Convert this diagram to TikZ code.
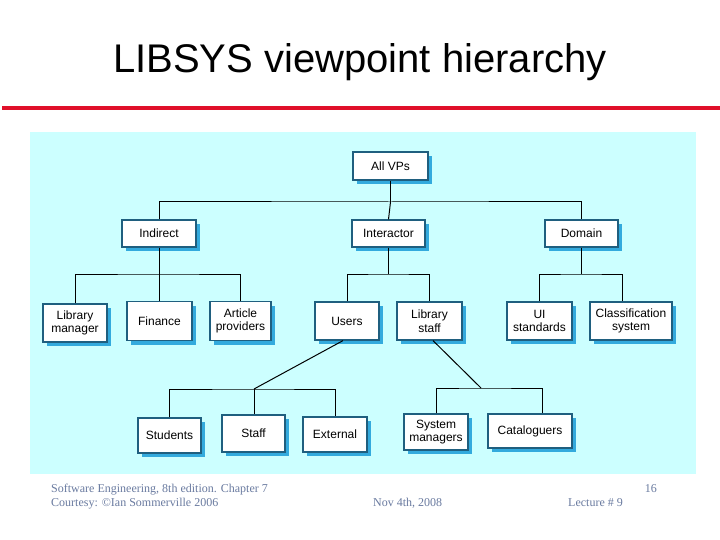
\documentclass[tikz,border=0pt]{standalone}
\usepackage{fontspec}
\setmainfont{Liberation Sans}
\newfontfamily\footfont{Liberation Serif}
\usetikzlibrary{shadows}
\definecolor{bgcyan}{HTML}{CCFFFF}
\definecolor{redline}{HTML}{E0102A}
\definecolor{boxborder}{HTML}{1F5F7F}
\definecolor{shadowblue}{HTML}{33AADD}
\definecolor{footgrey}{HTML}{6A7BA0}
\tikzset{
  vp/.style={draw=boxborder, line width=1.2pt, fill=white, align=center,
    inner sep=1pt, font=\fontsize{12}{13.5}\selectfont,
    drop shadow={shadow xshift=4pt, shadow yshift=-4pt, fill=shadowblue, opacity=1}},
  conn/.style={draw=black, line width=1pt},
  foot/.style={font=\footfont\fontsize{12}{14}\selectfont, text=footgrey, inner sep=0pt}
}
\begin{document}
\begin{tikzpicture}[x=1pt,y=-1pt]
\useasboundingbox (0,0) rectangle (720,540);
\fill[white] (0,0) rectangle (720,540);
% title
\node[font=\fontsize{40}{44}\selectfont, inner sep=0pt] (title) at (360,62) {LIBSYS viewpoint hierarchy};
\fill[redline] (2,106) rectangle (720,110);
% background panel
\fill[bgcyan] (30,132) rectangle (696,474);
% nodes
\node[vp, minimum width=75pt, minimum height=28pt] (all) at (390.5,166) {All VPs};
\node[vp, minimum width=74pt, minimum height=27pt] (ind) at (159,233.5) {Indirect};
\node[vp, minimum width=73pt, minimum height=27pt] (int) at (388.5,233.5) {Interactor};
\node[vp, minimum width=73pt, minimum height=27pt] (dom) at (581.5,233.5) {Domain};
\node[vp, minimum width=64pt, minimum height=38pt] (lm) at (75,323) {Library\\manager};
\node[vp, minimum width=65pt, minimum height=39pt] (fin) at (159.5,321) {Finance};
\node[vp, minimum width=61pt, minimum height=39pt] (art) at (240.5,321) {Article\\providers};
\node[vp, minimum width=64pt, minimum height=38pt] (usr) at (347,321) {Users};
\node[vp, minimum width=65pt, minimum height=38pt] (ls) at (429.5,321) {Library\\staff};
\node[vp, minimum width=65pt, minimum height=38pt] (ui) at (539.5,321) {UI\\standards};
\node[vp, minimum width=82pt, minimum height=38pt] (cls) at (631,321) {Classification\\system};
\node[vp, minimum width=63pt, minimum height=35pt] (stu) at (169.5,435.5) {Students};
\node[vp, minimum width=63pt, minimum height=37pt] (stf) at (253.5,433.5) {Staff};
\node[vp, minimum width=64pt, minimum height=35pt] (ext) at (335,434.5) {External};
\node[vp, minimum width=64pt, minimum height=36pt] (sm) at (436,432) {System\\managers};
\node[vp, minimum width=84pt, minimum height=34pt] (cat) at (530,431) {Cataloguers};
% bus coordinates
\coordinate (b1) at (390.5,202);
\coordinate (b2) at (159,274);
\coordinate (b3) at (388.5,274);
\coordinate (b4) at (581.5,274);
\coordinate (j1) at (254,389);
\coordinate (j2) at (481,388);
\coordinate (cx) at (622,274);
\coordinate (cy) at (542,388);
% level 1
\draw[conn] (all.south) -- (b1);
\draw[conn] (ind.north) |- (b1) -| (dom.north);
\draw[conn] (b1) -- (int.north);
% indirect children
\draw[conn] (ind.south) -- (b2);
\draw[conn] (lm.north) |- (b2) -| (art.north);
\draw[conn] (b2) -- (b2 |- fin.north);
% interactor children
\draw[conn] (int.south) -- (b3);
\draw[conn] (usr.north) |- (b3) -| (ls.north);
% domain children
\draw[conn] (dom.south) -- (b4);
\draw[conn] (ui.north) |- (b4) -- (cx) -- (cx |- cls.north);
% users children
\draw[conn] ([xshift=-4pt]usr.south) -- (j1);
\draw[conn] (stu.north) |- (j1) -| (ext.north);
\draw[conn] (j1) -- (j1 |- stf.north);
% library staff children
\draw[conn] ([xshift=3.5pt]ls.south) -- (j2);
\draw[conn] (sm.north) |- (j2) -- (cy) -- (cy |- cat.north);
% footer
\node[foot, anchor=base west] (f1) at (51,492) {Software Engineering, 8th edition. Chapter 7};
\node[foot, anchor=base west] (f2) at (51,506) {Courtesy: \textcopyright Ian Sommerville 2006};
\node[foot, anchor=base west] (f3) at (373,506) {Nov 4th, 2008};
\node[foot, anchor=base west] (f4) at (568,506) {Lecture \# 9};
\node[foot, anchor=base east] (f5) at (657,492) {16};
\end{tikzpicture}
\end{document}
